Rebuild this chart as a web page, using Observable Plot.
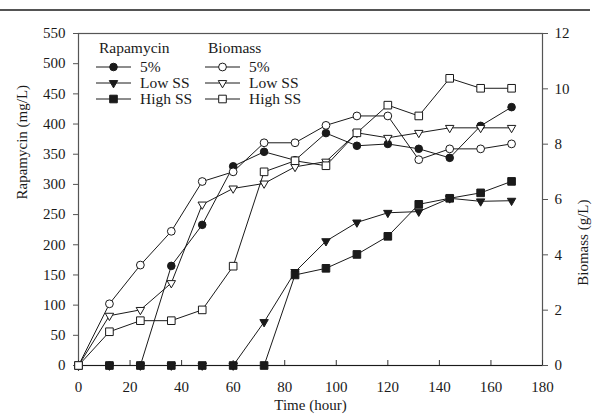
<!DOCTYPE html>
<html>
<head>
<meta charset="utf-8">
<script src="https://cdn.jsdelivr.net/npm/d3@7"></script>
<script src="https://cdn.jsdelivr.net/npm/@observablehq/plot@0.6"></script>
<style>
  html, body { margin: 0; padding: 0; background: #fff; }
  #chart { width: 596px; height: 416px; }
</style>
</head>
<body>
<div id="chart"></div>
<script>
// ---- Data ----
const time = [0, 12, 24, 36, 48, 60, 72, 84, 96, 108, 120, 132, 144, 156, 168];

// Rapamycin (mg/L) — left axis
const rap5    = [0, 0, 0, 165, 233, 330, 354, 340, 385, 364, 367, 359, 344, 397, 428];
const rapLow  = [0, 0, 0, 0, 0, 0, 72, 155, 206, 237, 253, 255, 277, 272, 273];
const rapHigh = [0, 0, 0, 0, 0, 0, 0, 150, 161, 184, 214, 267, 277, 286, 305];

// Biomass (g/L) — right axis
const bio5    = [0, 2.23, 3.63, 4.85, 6.65, 7.0, 8.05, 8.05, 8.68, 9.02, 9.02, 7.44, 7.83, 7.83, 8.01];
const bioLow  = [0, 1.80, 2.01, 2.98, 5.82, 6.40, 6.58, 7.18, 7.37, 8.41, 8.23, 8.41, 8.59, 8.59, 8.59];
const bioHigh = [0, 1.22, 1.62, 1.62, 2.01, 3.59, 7.0, 7.40, 7.22, 8.41, 9.41, 9.02, 10.38, 10.02, 10.02];

const xTicks = [0, 20, 40, 60, 80, 100, 120, 140, 160, 180];
const leftTicks = [0, 50, 100, 150, 200, 250, 300, 350, 400, 450, 500, 550];
const rightTicks = [0, 2, 4, 6, 8, 10, 12];

const seriesLabels = ["5%", "Low SS", "High SS"];
const rapTitle = "Rapamycin";
const bioTitle = "Biomass";
const xTitle = "Time (hour)";
const yLeftTitle = "Rapamycin (mg/L)";
const yRightTitle = "Biomass (g/L)";

// ---- Scales ----
const yMax = 550, bMax = 12;
const k = yMax / bMax; // biomass -> left scale units

// custom downward triangle symbol
const triDown = {
  draw(ctx, size) {
    const s = Math.sqrt(size) * 1.25;
    const h = s * 0.866;
    ctx.moveTo(-s / 2, -h / 3);
    ctx.lineTo(s / 2, -h / 3);
    ctx.lineTo(0, 2 * h / 3);
    ctx.closePath();
  }
};

const ink = "#1a1a1a";
const rows = (vals, scale = 1) => time.map((t, i) => ({t, v: vals[i] * scale}));

const series = [
  {data: rows(rap5), symbol: "circle", fill: ink, r: 3.8},
  {data: rows(rapLow), symbol: triDown, fill: ink, r: 3.8},
  {data: rows(rapHigh), symbol: "square", fill: ink, r: 4.3},
  {data: rows(bio5, k), symbol: "circle", fill: "white", r: 3.9},
  {data: rows(bioLow, k), symbol: triDown, fill: "white", r: 3.8},
  {data: rows(bioHigh, k), symbol: "square", fill: "white", r: 4.3}
];

const fontFamily = "'Liberation Serif', 'Times New Roman', serif";
const W = 596, H = 416, mL = 78, mR = 54, mT = 33, mB = 51;

const seriesMarks = series.flatMap(s => [
  Plot.line(s.data, {x: "t", y: "v", stroke: ink, strokeWidth: 1}),
  Plot.dot(s.data, {x: "t", y: "v", symbol: s.symbol, r: s.r, fill: s.fill, stroke: ink, strokeWidth: 1})
]);

const chart = Plot.plot({
  width: W, height: H,
  marginLeft: mL, marginRight: mR, marginTop: mT, marginBottom: mB,
  style: {fontFamily, fontSize: "15px", color: ink, background: "white"},
  x: {domain: [0, 180]},
  y: {domain: [0, yMax]},
  marks: [
    Plot.frame({stroke: "#555", strokeWidth: 1.2}),
    Plot.axisY({ticks: leftTicks, tickSize: 5, tickPadding: 8, fontSize: 15, label: null, stroke: "#555"}),
    Plot.axisY({anchor: "right", ticks: rightTicks.map(d => d * k), tickFormat: d => Math.round(d / k), tickSize: 5, tickPadding: 7, fontSize: 15, label: null, stroke: "#555"}),
    Plot.axisX({ticks: xTicks, tickSize: 0, tickPadding: 16, fontSize: 15, label: null}),
    Plot.tickX(xTicks, {x: d => d, insetTop: (H - mT - mB) - 5, stroke: "#333"}),
    Plot.ruleY([0], {stroke: ink, strokeWidth: 1.2}),
    ...seriesMarks,
    Plot.text([xTitle], {frameAnchor: "bottom", dy: 44, fontSize: 15, fill: ink}),
    Plot.text([yLeftTitle], {frameAnchor: "left", dx: -56, rotate: -90, fontSize: 15, fill: ink}),
    Plot.text([yRightTitle], {frameAnchor: "right", dx: 41, rotate: -90, fontSize: 15, fill: ink})
  ]
});

document.getElementById("chart").appendChild(chart);

// ---- Top rule and legend drawn into the same SVG ----
const svg = d3.select(chart);
svg.append("line")
  .attr("x1", 0).attr("x2", 590).attr("y1", 10).attr("y2", 10)
  .attr("stroke", ink).attr("stroke-width", 1.3);

const legend = svg.append("g")
  .attr("font-family", fontFamily).attr("font-size", 15.5)
  .attr("fill", ink).attr("text-anchor", "start");
const groups = [
  {title: rapTitle, x0: 96, series: series.slice(0, 3)},
  {title: bioTitle, x0: 205, series: series.slice(3, 6)}
];
const rowY = [67, 83, 99];
groups.forEach(g => {
  legend.append("text").attr("x", g.x0 + 3).attr("y", 48).attr("dy", "0.35em")
    .attr("text-anchor", "start").text(g.title);
  g.series.forEach((s, i) => {
    const y = rowY[i];
    legend.append("line").attr("x1", g.x0).attr("x2", g.x0 + 35).attr("y1", y).attr("y2", y)
      .attr("stroke", ink).attr("stroke-width", 1);
    const sym = typeof s.symbol === "string" ? (s.symbol === "circle" ? d3.symbolCircle : d3.symbolSquare) : s.symbol;
    legend.append("path")
      .attr("transform", `translate(${g.x0 + 17.5},${y})`)
      .attr("d", d3.symbol(sym, Math.PI * s.r * s.r)())
      .attr("fill", s.fill).attr("stroke", ink).attr("stroke-width", 1);
    legend.append("text").attr("x", g.x0 + 44).attr("y", y).attr("dy", "0.35em")
      .attr("text-anchor", "start").text(seriesLabels[i]);
  });
});
</script>
</body>
</html>
